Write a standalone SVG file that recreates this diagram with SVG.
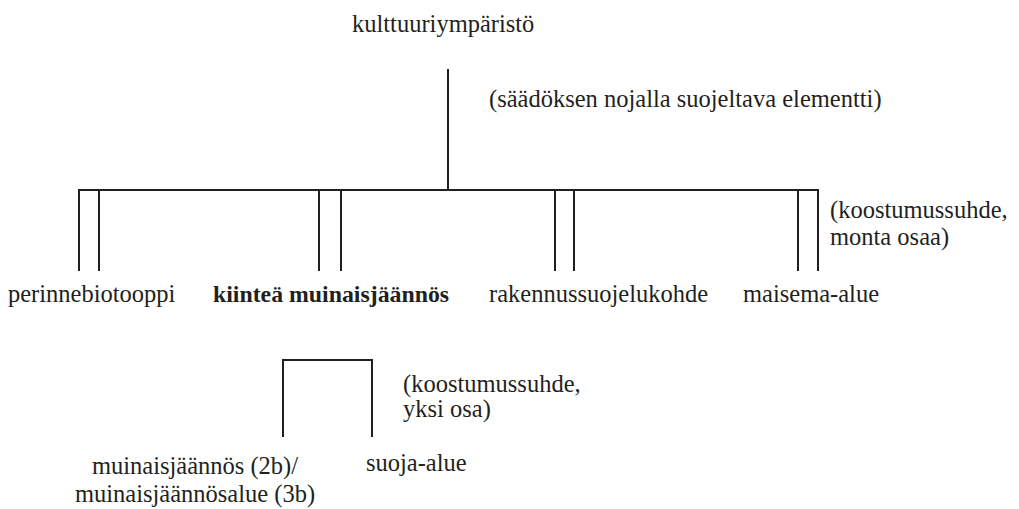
<svg xmlns="http://www.w3.org/2000/svg" width="1019" height="509" viewBox="0 0 1019 509">
  <style>
    text { font-family: "Liberation Serif", "DejaVu Serif", "Times New Roman", serif; font-size: 24.5px; fill: #231f20; }
    .b { font-weight: bold; font-size: 23.8px; }
    .c { text-anchor: middle; }
    .ln { stroke: #231f20; stroke-width: 2; fill: none; stroke-linecap: butt; }
  </style>
  <rect width="1019" height="509" fill="#ffffff"/>

  <!-- connectors: trunk, double-line branches, single-part bracket -->
  <g id="connectors">
    <path class="ln" d="M448,69 V190"/>
    <path class="ln" d="M79,271 V190 H818 V271"/>
    <path class="ln" d="M99,190 V271"/>
    <path class="ln" d="M319,190 V271 M341,190 V271"/>
    <path class="ln" d="M555,190 V271 M574,190 V271"/>
    <path class="ln" d="M798,190 V271"/>
    <path class="ln" d="M283,437 V360 H372 V437"/>
  </g>

  <g id="node-kulttuuriymparisto"><text x="352" y="32">kulttuuriympäristö</text></g>
  <g id="label-saadoksen"><text x="489" y="107">(säädöksen nojalla suojeltava elementti)</text></g>

  <g id="node-perinnebiotooppi"><text x="8" y="302">perinnebiotooppi</text></g>
  <g id="node-kiintea"><text class="b" x="213" y="302">kiinteä muinaisjäännös</text></g>
  <g id="node-rakennussuojelukohde"><text x="489" y="302">rakennussuojelukohde</text></g>
  <g id="node-maisema-alue"><text x="743" y="302">maisema-alue</text></g>
  <g id="label-monta-osaa">
    <text x="830" y="218">(koostumussuhde,</text>
    <text x="830" y="245">monta osaa)</text>
  </g>

  <g id="label-yksi-osa">
    <text x="403" y="392">(koostumussuhde,</text>
    <text x="403" y="417">yksi osa)</text>
  </g>
  <g id="node-muinaisjaannos">
    <text class="c" x="195" y="474">muinaisjäännös (2b)/</text>
    <text class="c" x="195" y="502">muinaisjäännösalue (3b)</text>
  </g>
  <g id="node-suoja-alue"><text x="366" y="471">suoja-alue</text></g>
</svg>
